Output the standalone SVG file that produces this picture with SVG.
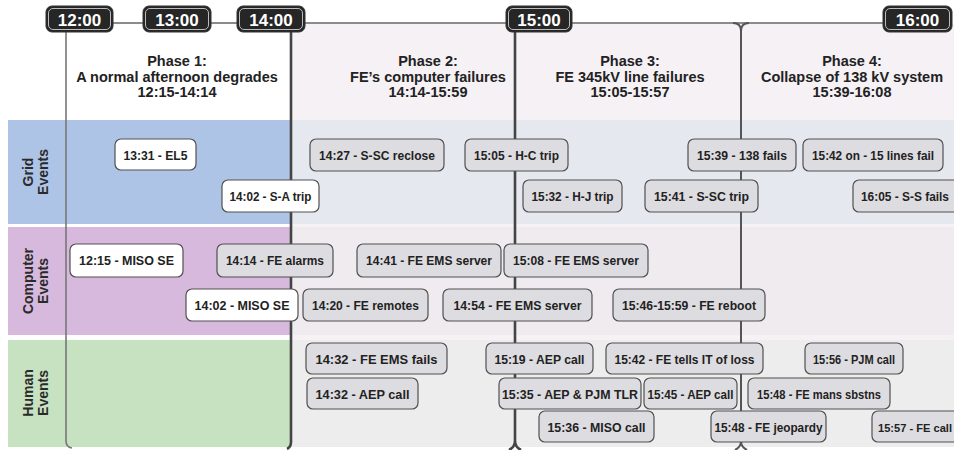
<svg xmlns="http://www.w3.org/2000/svg" width="954" height="450" viewBox="0 0 954 450">
<style>
.tb{fill:#262626;stroke:#333;stroke-width:1}
.tbi{fill:none;stroke:#bdbdbd;stroke-width:1}
.tbt{font-family:"Liberation Sans",Arial,sans-serif;font-weight:bold;font-size:17px;fill:#fff;text-anchor:middle}
.hd{font-family:"Liberation Sans",Arial,sans-serif;font-weight:bold;font-size:14.5px;fill:#222;text-anchor:middle}
.ln{font-family:"Liberation Sans",Arial,sans-serif;font-weight:bold;font-size:14px;fill:#2a2a2a;text-anchor:middle}
.ev rect{stroke:#505050;stroke-width:1.2}
.w{fill:#ffffff}
.g{fill:#dddce0}
.et{font-family:"Liberation Sans",Arial,sans-serif;font-weight:bold;font-size:13px;fill:#222;text-anchor:middle}
.axis{fill:none;stroke:#666;stroke-width:1.5}
.vthin{fill:none;stroke:#777;stroke-width:1.6}
.vthick{fill:none;stroke:#444;stroke-width:2.6}
.vmid{fill:none;stroke:#555;stroke-width:2}
</style>

<!-- backgrounds -->
<g id="background">
<rect x="0" y="0" width="954" height="450" fill="#ffffff"/>
<rect x="291" y="24" width="663" height="423" fill="#f5f1f5"/>
<rect x="8" y="120" width="283" height="104" fill="#aec4e7"/>
<rect x="291" y="120" width="663" height="104" fill="#e5e9ef"/>
<rect x="8" y="227" width="283" height="108" fill="#d7b9dd"/>
<rect x="291" y="227" width="663" height="108" fill="#efebef"/>
<rect x="8" y="340" width="283" height="107" fill="#c7e2c1"/>
<rect x="291" y="340" width="663" height="107" fill="#eeedee"/>
</g>

<!-- connectors: time axis and phase lines -->
<g id="connectors">
<path class="axis" d="M112,23 H884"/>
<path class="vthin" d="M66,31 V441 Q66,447 72,448"/>
<path class="vthick" d="M291,31 V442 Q291,447 287,449"/>
<path class="vthick" d="M515,31 V441"/>
<path class="vthick" d="M509,450 Q515,447 515,441 Q515,447 521,450"/>
<path class="vmid" d="M741,31 V441"/>
<path class="vmid" d="M733,23 Q741,23 741,31 Q741,23 749,23"/>
<path class="vmid" d="M735,450 Q741,447 741,441 Q741,447 747,450"/>
</g>

<!-- time markers -->
<g id="t1200"><rect class="tb" x="46" y="6" width="67" height="26" rx="6"/><rect class="tbi" x="48.5" y="8.5" width="62" height="21" rx="4.5"/><text class="tbt" x="79.5" y="25.5">12:00</text></g>
<g id="t1300"><rect class="tb" x="143" y="6" width="68" height="26" rx="6"/><rect class="tbi" x="145.5" y="8.5" width="63" height="21" rx="4.5"/><text class="tbt" x="177" y="25.5">13:00</text></g>
<g id="t1400"><rect class="tb" x="237" y="6" width="68" height="26" rx="6"/><rect class="tbi" x="239.5" y="8.5" width="63" height="21" rx="4.5"/><text class="tbt" x="271" y="25.5">14:00</text></g>
<g id="t1500"><rect class="tb" x="506" y="6" width="66" height="26" rx="6"/><rect class="tbi" x="508.5" y="8.5" width="61" height="21" rx="4.5"/><text class="tbt" x="539" y="25.5">15:00</text></g>
<g id="t1600"><rect class="tb" x="883" y="6" width="69" height="26" rx="6"/><rect class="tbi" x="885.5" y="8.5" width="64" height="21" rx="4.5"/><text class="tbt" x="917.5" y="25.5">16:00</text></g>

<!-- phase headers -->
<g id="phase1"><text class="hd" x="177" y="66">Phase 1:</text><text class="hd" x="177" y="81.5">A normal afternoon degrades</text><text class="hd" x="177" y="97">12:15-14:14</text></g>
<g id="phase2"><text class="hd" x="428" y="66">Phase 2:</text><text class="hd" x="428" y="81.5">FE’s computer failures</text><text class="hd" x="428" y="97">14:14-15:59</text></g>
<g id="phase3"><text class="hd" x="630" y="66">Phase 3:</text><text class="hd" x="630" y="81.5">FE 345kV line failures</text><text class="hd" x="630" y="97">15:05-15:57</text></g>
<g id="phase4"><text class="hd" x="852" y="66">Phase 4:</text><text class="hd" x="852" y="81.5">Collapse of 138 kV system</text><text class="hd" x="852" y="97">15:39-16:08</text></g>

<!-- lane labels -->
<g id="lane-grid"><text class="ln" transform="translate(33,172) rotate(-90)">Grid</text><text class="ln" transform="translate(48,172) rotate(-90)">Events</text></g>
<g id="lane-computer"><text class="ln" transform="translate(33,281) rotate(-90)">Computer</text><text class="ln" transform="translate(48,281) rotate(-90)">Events</text></g>
<g id="lane-human"><text class="ln" transform="translate(33,393) rotate(-90)">Human</text><text class="ln" transform="translate(48,393) rotate(-90)">Events</text></g>

<!-- grid events -->
<g id="e1331" class="ev"><rect class="w" x="115" y="139" width="81" height="31" rx="6"/><text class="et" x="155.5" y="159.5" textLength="64" lengthAdjust="spacingAndGlyphs">13:31 - EL5</text></g>
<g id="e1402sa" class="ev"><rect class="w" x="222" y="180" width="97" height="32" rx="6"/><text class="et" x="270.5" y="200.5" textLength="82" lengthAdjust="spacingAndGlyphs">14:02  - S-A trip</text></g>
<g id="e1427" class="ev"><rect class="g" x="310" y="139" width="134" height="32" rx="6"/><text class="et" x="377" y="160" textLength="116" lengthAdjust="spacingAndGlyphs">14:27 - S-SC reclose</text></g>
<g id="e1505" class="ev"><rect class="g" x="465" y="139" width="103" height="32" rx="6"/><text class="et" x="516.5" y="160" textLength="85" lengthAdjust="spacingAndGlyphs">15:05 - H-C trip</text></g>
<g id="e1532" class="ev"><rect class="g" x="523" y="180" width="99" height="32" rx="6"/><text class="et" x="572.5" y="200.5" textLength="82" lengthAdjust="spacingAndGlyphs">15:32 - H-J trip</text></g>
<g id="e1539" class="ev"><rect class="g" x="688" y="139" width="108" height="32" rx="6"/><text class="et" x="742" y="160" textLength="90" lengthAdjust="spacingAndGlyphs">15:39 - 138 fails</text></g>
<g id="e1542" class="ev"><rect class="g" x="803" y="139" width="140" height="32" rx="6"/><text class="et" x="873" y="160" textLength="122" lengthAdjust="spacingAndGlyphs">15:42 on - 15 lines fail</text></g>
<g id="e1541" class="ev"><rect class="g" x="645" y="180" width="113" height="32" rx="6"/><text class="et" x="701.5" y="200.5" textLength="95" lengthAdjust="spacingAndGlyphs">15:41 - S-SC trip</text></g>
<g id="e1605" class="ev"><rect class="g" x="853" y="180" width="110" height="32" rx="6"/><text class="et" x="861" y="200.5" style="text-anchor:start;font-size:12px" textLength="88" lengthAdjust="spacingAndGlyphs">16:05 - S-S fails</text></g>

<!-- computer events -->
<g id="e1215" class="ev"><rect class="w" x="70" y="244" width="113" height="33" rx="6"/><text class="et" x="126.5" y="265" textLength="95" lengthAdjust="spacingAndGlyphs">12:15 - MISO SE</text></g>
<g id="e1414" class="ev"><rect class="g" x="217" y="244" width="116" height="33" rx="6"/><text class="et" x="275" y="265" textLength="98" lengthAdjust="spacingAndGlyphs">14:14 - FE alarms</text></g>
<g id="e1402ms" class="ev"><rect class="w" x="186" y="289" width="112" height="32" rx="6"/><text class="et" x="242" y="309.5" textLength="95" lengthAdjust="spacingAndGlyphs">14:02 - MISO SE</text></g>
<g id="e1420" class="ev"><rect class="g" x="303" y="289" width="125" height="32" rx="6"/><text class="et" x="365.5" y="309.5" textLength="107" lengthAdjust="spacingAndGlyphs">14:20 - FE remotes</text></g>
<g id="e1441" class="ev"><rect class="g" x="357" y="244" width="144" height="33" rx="6"/><text class="et" x="429" y="265" textLength="126" lengthAdjust="spacingAndGlyphs">14:41 - FE EMS server</text></g>
<g id="e1508" class="ev"><rect class="g" x="504" y="244" width="144" height="33" rx="6"/><text class="et" x="576" y="265" textLength="126" lengthAdjust="spacingAndGlyphs">15:08 - FE EMS server</text></g>
<g id="e1454" class="ev"><rect class="g" x="443" y="289" width="149" height="32" rx="6"/><text class="et" x="517.5" y="309.5" textLength="128" lengthAdjust="spacingAndGlyphs">14:54 - FE EMS server</text></g>
<g id="e1546" class="ev"><rect class="g" x="613" y="289" width="152" height="32" rx="6"/><text class="et" x="689" y="309.5" textLength="134" lengthAdjust="spacingAndGlyphs">15:46-15:59 - FE reboot</text></g>

<!-- human events -->
<g id="e1432f" class="ev"><rect class="g" x="306" y="343" width="141" height="31" rx="6"/><text class="et" x="376.5" y="363.5" textLength="122" lengthAdjust="spacingAndGlyphs">14:32 - FE EMS fails</text></g>
<g id="e1432a" class="ev"><rect class="g" x="307" y="378" width="111" height="31" rx="6"/><text class="et" x="362.5" y="398.5" textLength="94" lengthAdjust="spacingAndGlyphs">14:32 - AEP call</text></g>
<g id="e1519" class="ev"><rect class="g" x="486" y="343" width="107" height="31" rx="6"/><text class="et" x="539.5" y="363.5" textLength="90" lengthAdjust="spacingAndGlyphs">15:19 - AEP call</text></g>
<g id="e1542h" class="ev"><rect class="g" x="606" y="343" width="157" height="31" rx="6"/><text class="et" x="684.5" y="363.5" textLength="140" lengthAdjust="spacingAndGlyphs">15:42 - FE tells IT of loss</text></g>
<g id="e1535" class="ev"><rect class="g" x="499" y="378" width="142" height="31" rx="6"/><text class="et" x="570" y="398.5" textLength="136" lengthAdjust="spacingAndGlyphs">15:35 - AEP &amp; PJM TLR</text></g>
<g id="e1545" class="ev"><rect class="g" x="644" y="378" width="93" height="31" rx="6"/><text class="et" x="690.5" y="398.5" textLength="86" lengthAdjust="spacingAndGlyphs">15:45 - AEP call</text></g>
<g id="e1536" class="ev"><rect class="g" x="539" y="411" width="115" height="31" rx="6"/><text class="et" x="596.5" y="431.5" textLength="98" lengthAdjust="spacingAndGlyphs">15:36 - MISO call</text></g>
<g id="e1556" class="ev"><rect class="g" x="805" y="343" width="98" height="31" rx="6"/><text class="et" x="854" y="363.5" textLength="82" lengthAdjust="spacingAndGlyphs">15:56 - PJM call</text></g>
<g id="e1548m" class="ev"><rect class="g" x="748" y="378" width="142" height="31" rx="6"/><text class="et" x="819" y="398.5" textLength="124" lengthAdjust="spacingAndGlyphs">15:48 - FE mans sbstns</text></g>
<g id="e1548j" class="ev"><rect class="g" x="711" y="411" width="115" height="31" rx="6"/><text class="et" x="768.5" y="431.5" textLength="108" lengthAdjust="spacingAndGlyphs">15:48 - FE jeopardy</text></g>
<g id="e1557" class="ev"><rect class="g" x="872" y="411" width="100" height="31" rx="6"/><text class="et" x="878" y="431.5" style="text-anchor:start;font-size:11.5px" textLength="74" lengthAdjust="spacingAndGlyphs">15:57 - FE call</text></g>
</svg>
